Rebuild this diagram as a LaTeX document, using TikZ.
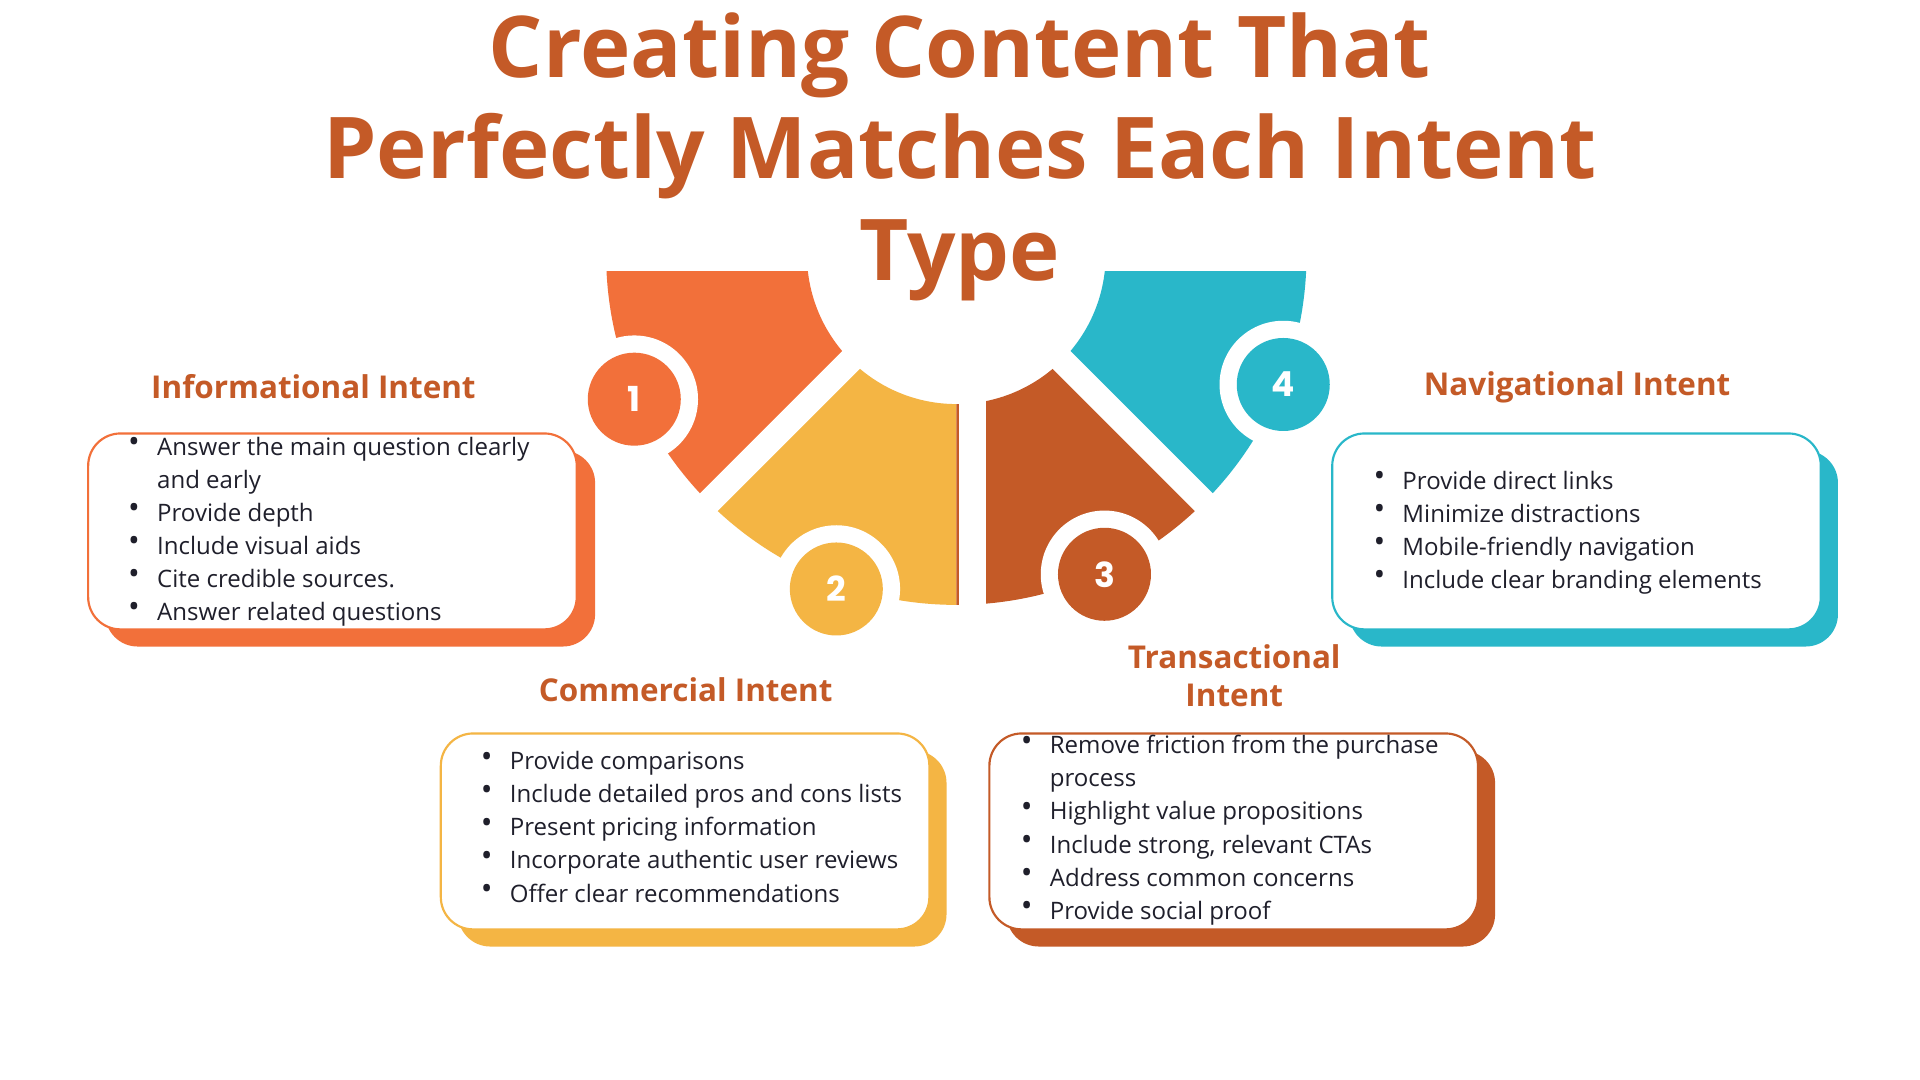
\documentclass[tikz,border=0pt]{standalone}
\usepackage{fontspec}
\setmainfont{Open Sans}
\newfontfamily\numfont{Poppins}
\usetikzlibrary{calc}
\definecolor{corange}{HTML}{F2703A}
\definecolor{cyellow}{HTML}{F4B544}
\definecolor{cbrown}{HTML}{C45A27}
\definecolor{cteal}{HTML}{29B7C9}
\definecolor{ctext}{HTML}{1F1F2B}
\tikzset{
  headtxt/.style={font=\bfseries\fontsize{7.3}{9}\selectfont, text=cbrown, align=center, inner sep=0},
  listtxt/.style={font=\fontsize{5.58}{7.68}\selectfont, text=ctext, anchor=north west, inner sep=0, align=left},
  numdisc/.style={circle, minimum size=21.6pt, inner sep=0, text=white, font=\numfont\bfseries\fontsize{8}{8}\selectfont},
  ringdisc/.style={circle, fill=white, minimum size=29.6pt, inner sep=0},
  frontbox/.style={draw=#1, line width=0.5pt, fill=white, rounded corners=7.5pt},
  backbox/.style={fill=#1, rounded corners=7.5pt},
}
\newcommand{\sector}[3]{% a1 a2 color
  \fill[#3] ($(C)+(#1:286)$) arc[start angle=#1,end angle=#2,radius=286] -- ($(C)+(#2:122)$) arc[start angle=#2,end angle=#1,radius=122] -- cycle;}
\begin{document}
\begin{tikzpicture}[x=0.01cm,y=-0.01cm]
\useasboundingbox (0,0) rectangle (1568,882);
\fill[white] (0,0) rectangle (1568,882);
\coordinate (C) at (781,208);
% wheel
\begin{scope}
\clip (0,222) rectangle (1568,882);
\sector{190}{135}{corange}
\sector{135}{90}{cyellow}
\sector{90}{45}{cbrown}
\sector{45}{-10}{cteal}
\end{scope}
\draw[white, line width=5.8pt] (C) -- ++(135:330);
\draw[white, line width=5.8pt] (C) -- ++(45:330);
\fill[white] (783,200) rectangle (805,520);
% number discs
\node[ringdisc] (r1) at (518,326) {};
\node[ringdisc] (r2) at (683,481) {};
\node[ringdisc] (r3) at (902,469) {};
\node[ringdisc] (r4) at (1048,314) {};
\node[numdisc, fill=corange] (n1) at (r1) {1};
\node[numdisc, fill=cyellow] (n2) at (r2) {2};
\node[numdisc, fill=cbrown] (n3) at (r3) {3};
\node[numdisc, fill=cteal] (n4) at (r4) {4};
% title
\node[font=\bfseries\fontsize{19.8}{23.6}\selectfont, text=cbrown, align=center, inner sep=0] (title) at (784,128)
 {Creating Content That\\Perfectly Matches Each Intent\\Type};
% boxes
\fill[backbox=corange] (86,368) rectangle (486,528);
\draw[frontbox=corange] (72,354) rectangle (471,514);
\fill[backbox=cyellow] (374,613) rectangle (773,773);
\draw[frontbox=cyellow] (360,599) rectangle (759,759);
\fill[backbox=cbrown] (822,613) rectangle (1221,773);
\draw[frontbox=cbrown] (808,599) rectangle (1207,759);
\fill[backbox=cteal] (1102,368) rectangle (1501,528);
\draw[frontbox=cteal] (1088,354) rectangle (1487,514);
% headings
\node[headtxt] (h1) at (256,316) {Informational Intent};
\node[headtxt] (h2) at (560,563) {Commercial Intent};
\node[headtxt, font=\bfseries\fontsize{7.3}{8.8}\selectfont] (h3) at (1008,552) {Transactional\\Intent};
\node[headtxt] (h4) at (1288,316) {Navigational Intent};
% lists
\newcommand{\bul}{\raisebox{0.2ex}{\scalebox{1.3}{\textbullet}}}
\node[listtxt] (l1) at (104,352) {\begin{tabular}{@{}l@{\hspace{4pt}}l@{}}
\bul & Answer the main question clearly\\
 & and early\\
\bul & Provide depth\\
\bul & Include visual aids\\
\bul & Cite credible sources.\\
\bul & Answer related questions
\end{tabular}};
\node[listtxt] (l2) at (392,609) {\begin{tabular}{@{}l@{\hspace{4pt}}l@{}}
\bul & Provide comparisons\\
\bul & Include detailed pros and cons lists\\
\bul & Present pricing information\\
\bul & Incorporate authentic user reviews\\
\bul & Offer clear recommendations
\end{tabular}};
\node[listtxt] (l3) at (833,596) {\begin{tabular}{@{}l@{\hspace{4pt}}l@{}}
\bul & Remove friction from the purchase\\
 & process\\
\bul & Highlight value propositions\\
\bul & Include strong, relevant CTAs\\
\bul & Address common concerns\\
\bul & Provide social proof
\end{tabular}};
\node[listtxt] (l4) at (1121,380) {\begin{tabular}{@{}l@{\hspace{4pt}}l@{}}
\bul & Provide direct links\\
\bul & Minimize distractions\\
\bul & Mobile-friendly navigation\\
\bul & Include clear branding elements
\end{tabular}};
\end{tikzpicture}
\end{document}
